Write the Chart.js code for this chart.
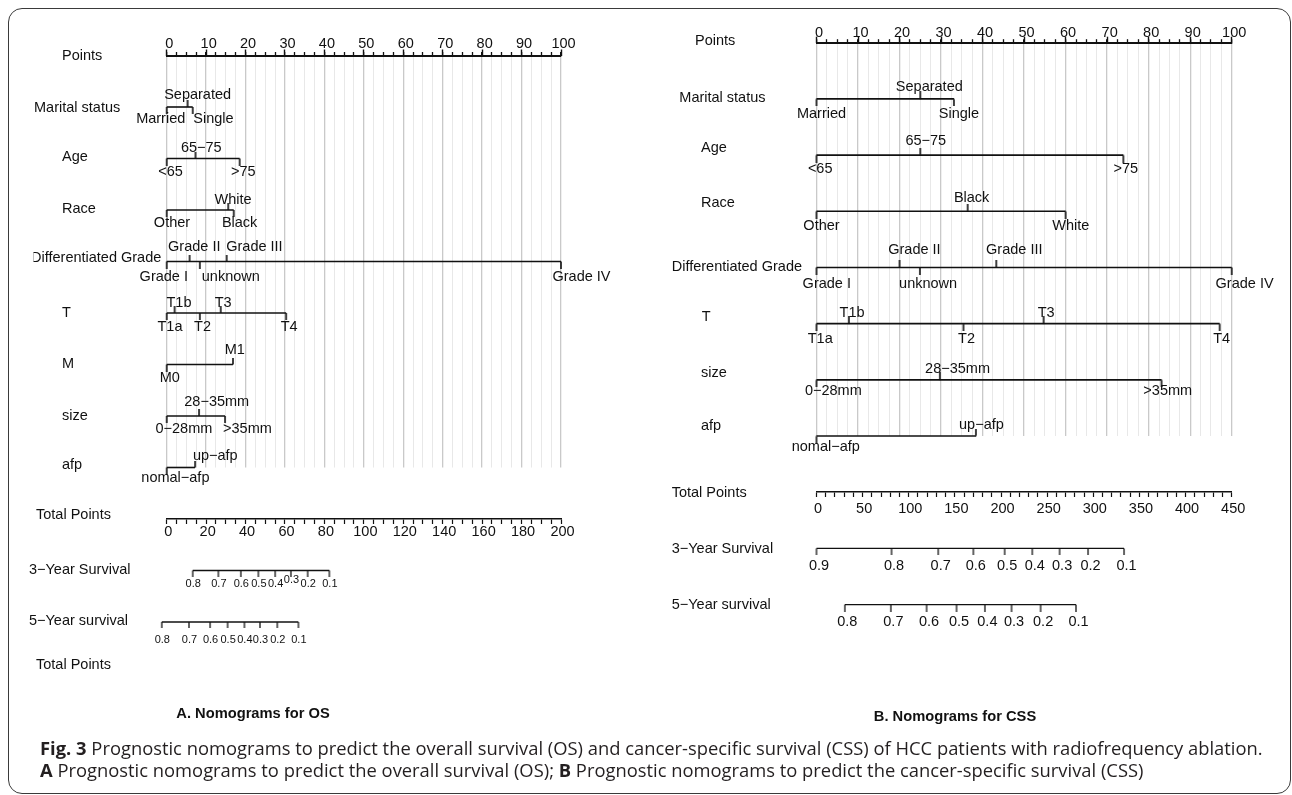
<!DOCTYPE html>
<html>
<head>
<meta charset="utf-8">
<title>Prognostic nomograms – OS and CSS</title>
<script src="https://cdn.jsdelivr.net/npm/chart.js@4.4.1/dist/chart.umd.min.js"></script>
<style>
  html, body { margin: 0; padding: 0; background: #fff; }
  #page { position: relative; width: 1292px; height: 795px; overflow: hidden; background: #fff; }
  #frame { position: absolute; left: 8px; top: 8px; width: 1283px; height: 786px;
           border: 1.5px solid #3a3a3a; border-radius: 14px; box-sizing: border-box; }
  canvas { position: absolute; left: 0; top: 0; }
  .panel-title { position: absolute; font: bold 14.7px "Liberation Sans", Arial, sans-serif; color: #111;
                 white-space: nowrap; transform: translate(-50%, -50%); }
  .caption { position: absolute; left: 40px; font-family: "Open Sans", "Noto Sans", sans-serif; font-size: 18.3px;
             color: #231f20; white-space: nowrap; line-height: 22px; }
  .caption b { font-weight: 700; }
</style>
</head>
<body>
<div id="page">
  <div id="frame"></div>
  <canvas id="osChart" width="1292" height="795"></canvas>
  <canvas id="cssChart" width="1292" height="795"></canvas>
  <div class="panel-title" style="left:253px; top:713px;">A. Nomograms for OS</div>
  <div class="panel-title" style="left:955px; top:716px;">B. Nomograms for CSS</div>
  <div class="caption" id="cap1" style="top:737px;"><b>Fig. 3</b> Prognostic nomograms to predict the overall survival (OS) and cancer-specific survival (CSS) of HCC patients with radiofrequency ablation.</div>
  <div class="caption" id="cap2" style="top:759px;"><b>A</b> Prognostic nomograms to predict the overall survival (OS); <b>B</b> Prognostic nomograms to predict the cancer-specific survival (CSS)</div>
</div>

<script>
// ---------------- A. Overall survival (OS) ----------------
const osRowNames = ['Points', 'Marital status', 'Age', 'Race', 'Differentiated Grade', 'T', 'M', 'size', 'afp',
                    'Total Points', '3\u2212Year Survival', '5\u2212Year survival', 'Total Points'];
const osMaritalLevels = ['Married', 'Separated', 'Single'];
const osMaritalPoints = [0, 5.3, 6.6];
const osAgeLevels = ['<65', '65\u221275', '>75'];
const osAgePoints = [0, 7.3, 18.5];
const osRaceLevels = ['Other', 'White', 'Black'];
const osRacePoints = [0, 15.6, 17.0];
const osGradeLevels = ['Grade I', 'Grade II', 'unknown', 'Grade III', 'Grade IV'];
const osGradePoints = [0, 5.8, 8.4, 15.2, 100];
const osTLevels = ['T1a', 'T1b', 'T2', 'T3', 'T4'];
const osTPoints = [0, 2.0, 8.4, 13.7, 30.3];
const osMLevels = ['M0', 'M1'];
const osMPoints = [0, 16.8];
const osSizeLevels = ['0\u221228mm', '28\u221235mm', '>35mm'];
const osSizePoints = [0, 8.2, 14.8];
const osAfpLevels = ['nomal\u2212afp', 'up\u2212afp'];
const osAfpPoints = [0, 7.2];
const osTotalMax = 200;
const osSurvivalTicks = [0.8, 0.7, 0.6, 0.5, 0.4, 0.3, 0.2, 0.1];
const os3yTotals = [13.2, 26.2, 37.6, 46.5, 55.0, 63.0, 71.5, 82.5];
const os5yTotals = [-2.5, 11.3, 22.0, 30.9, 39.4, 47.3, 56.1, 66.8];

// ---------------- B. Cancer-specific survival (CSS) ----------------
const cssRowNames = ['Points', 'Marital status', 'Age', 'Race', 'Differentiated Grade', 'T', 'size', 'afp',
                     'Total Points', '3\u2212Year Survival', '5\u2212Year survival'];
const cssMaritalLevels = ['Married', 'Separated', 'Single'];
const cssMaritalPoints = [0, 25.0, 33.1];
const cssAgeLevels = ['<65', '65\u221275', '>75'];
const cssAgePoints = [0, 25.0, 73.9];
const cssRaceLevels = ['Other', 'Black', 'White'];
const cssRacePoints = [0, 36.4, 60.0];
const cssGradeLevels = ['Grade I', 'Grade II', 'unknown', 'Grade III', 'Grade IV'];
const cssGradePoints = [0, 20.0, 24.9, 43.3, 100];
const cssTLevels = ['T1a', 'T1b', 'T2', 'T3', 'T4'];
const cssTPoints = [0, 7.8, 35.4, 54.7, 97.1];
const cssSizeLevels = ['0\u221228mm', '28\u221235mm', '>35mm'];
const cssSizePoints = [0, 29.7, 83.1];
const cssAfpLevels = ['nomal\u2212afp', 'up\u2212afp'];
const cssAfpPoints = [0, 38.4];
const cssTotalMax = 450;
const css3yTicks = [0.9, 0.8, 0.7, 0.6, 0.5, 0.4, 0.3, 0.2, 0.1];
const css3yTotals = [0, 81.3, 131.9, 170.0, 203.9, 233.9, 263.5, 294.3, 333.3];
const css5yTicks = [0.8, 0.7, 0.6, 0.5, 0.4, 0.3, 0.2, 0.1];
const css5yTotals = [30.7, 80.6, 119.3, 151.8, 182.5, 211.4, 242.9, 281.2];

// ---------------- styling ----------------
const INK = '#111111';
const GRID_MAJOR = '#c9c9c9';
const GRID_MINOR = '#e8e8e8';
const FAMILY = '"Liberation Sans", Arial, Helvetica, sans-serif';
const PAGE_W = 1292, PAGE_H = 795;
const POINTS_LABEL_BAND = 28;   // height reserved above the Points axis for its numbers

Chart.defaults.font.family = FAMILY;
Chart.defaults.font.size = 14.5;
Chart.defaults.color = INK;

// Panel layout: label placement per level (which labels sit above the line, horizontal nudges),
// row-name positions and pixel geometry of the plotting area.
const panelA = {
  canvas: 'osChart',
  left: 166.7, right: 561, top: 55.5, rowGap: 51.5,
  rowNames: osRowNames,
  nameX:    [62, 34, 62, 62, 31, 62, 62, 62, 62, 36, 29, 29, 36],
  nameBase: [4.5, 4.7, 2.2, 3.3, 0, 3.7, 3.8, 4, 1.5, 0, 3.8, 3, -4.2],
  nameClip: { 4: 33.5 },
  factors: [
    { levels: osMaritalLevels, points: osMaritalPoints, up: [1],    dx: [-6, 10, 20.7],              above: 8.3,  below: 15.7 },
    { levels: osAgeLevels,     points: osAgePoints,     up: [1],    dx: [3.8, 5.8, 3.7],             above: 6.8,  below: 17.2 },
    { levels: osRaceLevels,    points: osRacePoints,    up: [1],    dx: [5.3, 4.8, 5.9],             above: 6,    below: 17.3 },
    { levels: osGradeLevels,   points: osGradePoints,   up: [1, 3], dx: [-2.9, 4.7, 31, 27.8, 20.5], above: 10.8, below: 19.2 },
    { levels: osTLevels,       points: osTPoints,       up: [1, 3], dx: [3.3, 4.4, 2.7, 2.5, 3],     above: 6.3,  below: 17.7 },
    { levels: osMLevels,       points: osMPoints,       up: [1],    dx: [3, 1.9],                    above: 10.5, below: 17.2 },
    { levels: osSizeLevels,    points: osSizePoints,    up: [1],    dx: [17.2, 17.7, 22.4],          above: 10,   below: 17.3 },
    { levels: osAfpLevels,     points: osAfpPoints,     up: [1],    dx: [8.7, 20.2],                 above: 7.5,  below: 14.8 }
  ],
  factorTick: 7,
  pointsPad: -3.2,
  totalMax: osTotalMax, totalStep: 5, totalLabelEvery: 20, totalPad: -0.7,
  survival: [
    { ticks: osSurvivalTicks, totals: os3yTotals, below: 16.8, lift: [0, 0, 0, 0, 0, -4.6, 0, 0] },
    { ticks: osSurvivalTicks, totals: os5yTotals, below: 21.3 }
  ],
  survTick: 6, survFont: 11, survDx: 0.5
};

const panelB = {
  canvas: 'cssChart',
  left: 816.5, right: 1231.7, top: 42.7, rowGap: 56.19,
  rowNames: cssRowNames,
  nameX:    [695, 679.3, 701, 701, 671.7, 701.7, 701, 701, 671.7, 671.7, 671.7],
  nameBase: [2.3, 2.8, -3.4, -4.6, 3.2, -2.9, -2.5, -6, 5, 5, 4.7],
  nameClip: {},
  factors: [
    { levels: cssMaritalLevels, points: cssMaritalPoints, up: [1],    dx: [5, 9, 5],                   above: 8.2,  below: 19.4 },
    { levels: cssAgeLevels,     points: cssAgePoints,     up: [1],    dx: [3.7, 5.5, 2.5],             above: 10.1, below: 17.6 },
    { levels: cssRaceLevels,    points: cssRacePoints,    up: [1],    dx: [5, 4, 5.2],                 above: 9.6,  below: 18.7 },
    { levels: cssGradeLevels,   points: cssGradePoints,   up: [1, 3], dx: [10.3, 14.9, 8.2, 18, 12.9], above: 13,   below: 20.3 },
    { levels: cssTLevels,       points: cssTPoints,       up: [1, 3], dx: [3.7, 3.2, 3, 2.5, 2],       above: 6.9,  below: 19.3 },
    { levels: cssSizeLevels,    points: cssSizePoints,    up: [1],    dx: [16.8, 17.7, 6.2],           above: 6.5,  below: 15.5 },
    { levels: cssAfpLevels,     points: cssAfpPoints,     up: [1],    dx: [9.3, 5.5],                  above: 6.7,  below: 14.7 }
  ],
  factorTick: 7.5,
  pointsPad: -4.5,
  totalMax: cssTotalMax, totalStep: 10, totalLabelEvery: 50, totalPad: 3.1,
  survival: [
    { ticks: css3yTicks, totals: css3yTotals, below: 21.3 },
    { ticks: css5yTicks, totals: css5yTotals, below: 21 }
  ],
  survTick: 7, survFont: 14.5, survDx: 2.5
};

// Small tick glyph used as a point style: a vertical stroke above or below the point.
function tickMark(len, up, width) {
  const c = document.createElement('canvas');
  c.width = 6;
  c.height = Math.round(len * 2);
  const g = c.getContext('2d');
  g.fillStyle = INK;
  g.fillRect(3 - width / 2, up ? 0 : c.height / 2, width, c.height / 2);
  return c;
}

function isMajor(ctx) {
  if (!ctx.tick) return false;
  const q = ctx.tick.value / 10;
  return Math.abs(q - Math.round(q)) < 1e-6;
}

// Vertical reference lines stop at the last predictor row.
function gridStopPlugin(lastGridRow) {
  return {
    id: 'gridStop',
    afterLayout(chart) {
      const s = chart.scales.pts;
      if (!s || s.__stopped) return;
      const base = s.drawGrid;
      s.drawGrid = function (area) {
        const yEnd = chart.scales.y.getPixelForValue(lastGridRow);
        const ctx = this.ctx;
        ctx.save();
        ctx.beginPath();
        ctx.rect(0, 0, chart.width, yEnd);
        ctx.clip();
        base.call(this, area);
        ctx.restore();
      };
      s.__stopped = true;
    }
  };
}

// Row names on the left of each scale.
function rowNamePlugin(P) {
  return {
    id: 'rowNames',
    afterDraw(chart) {
      const ctx = chart.ctx;
      const y = chart.scales.y;
      ctx.save();
      ctx.font = '14.5px ' + FAMILY;
      ctx.fillStyle = INK;
      ctx.textAlign = 'left';
      ctx.textBaseline = 'alphabetic';
      P.rowNames.forEach((name, r) => {
        ctx.save();
        if (P.nameClip[r] !== undefined) {
          ctx.beginPath();
          ctx.rect(P.nameClip[r], 0, chart.width, chart.height);
          ctx.clip();
        }
        ctx.fillText(name, P.nameX[r], y.getPixelForValue(r) + P.nameBase[r]);
        ctx.restore();
      });
      ctx.restore();
    }
  };
}

// Level names next to each tick, above or below the line.
const levelTagPlugin = {
  id: 'levelTags',
  afterDatasetsDraw(chart) {
    const ctx = chart.ctx;
    chart.data.datasets.forEach((ds, i) => {
      if (!ds.tagText) return;
      const meta = chart.getDatasetMeta(i);
      ctx.save();
      ctx.font = ds.tagFont;
      ctx.fillStyle = INK;
      ctx.textAlign = 'center';
      ctx.textBaseline = 'alphabetic';
      meta.data.forEach((el, j) => {
        const lift = ds.tagLift ? ds.tagLift[j] : 0;
        const ty = ds.tagUp[j] ? el.y - ds.tagAbove : el.y + ds.tagBelow + lift;
        ctx.fillText(ds.tagText[j], el.x + ds.tagDx[j], ty);
      });
      ctx.restore();
    });
  }
};

function drawPanel(P) {
  const nF = P.factors.length;
  const totalRow = nF + 1;
  const lastRow = nF + 3;
  const tickUp = tickMark(P.factorTick, true, 1.6);
  const tickDown = tickMark(P.factorTick, false, 1.6);
  const survTick = tickMark(P.survTick, false, 1.3);
  const datasets = [];

  P.factors.forEach((f, i) => {
    const row = i + 1;
    const isUp = f.points.map((_, j) => f.up.includes(j));
    datasets.push({
      data: f.points.map(p => ({ x: p, y: row })),
      xAxisID: 'pts', yAxisID: 'y',
      showLine: true, tension: 0, clip: false,
      borderColor: INK, borderWidth: 1.6,
      pointStyle: isUp.map(u => (u ? tickUp : tickDown)),
      pointRadius: 9, pointHoverRadius: 9, pointBorderWidth: 0,
      tagText: f.levels, tagUp: isUp, tagDx: f.dx,
      tagAbove: f.above, tagBelow: f.below, tagFont: '14.5px ' + FAMILY
    });
  });

  P.survival.forEach((s, k) => {
    const row = totalRow + 1 + k;
    datasets.push({
      data: s.totals.map(t => ({ x: t, y: row })),
      xAxisID: 'tp', yAxisID: 'y',
      showLine: true, tension: 0, clip: false,
      borderColor: INK, borderWidth: 1.3,
      pointStyle: survTick,
      pointRadius: 9, pointHoverRadius: 9, pointBorderWidth: 0,
      tagText: s.ticks.map(v => v.toFixed(1)),
      tagUp: s.ticks.map(() => false),
      tagDx: s.ticks.map(() => P.survDx),
      tagBelow: s.below, tagLift: s.lift,
      tagFont: P.survFont + 'px ' + FAMILY
    });
  });

  new Chart(document.getElementById(P.canvas), {
    type: 'scatter',
    data: { datasets },
    options: {
      responsive: false,
      animation: false,
      devicePixelRatio: 1,
      events: [],
      layout: {
        padding: {
          left: P.left,
          right: PAGE_W - P.right,
          top: P.top - POINTS_LABEL_BAND,
          bottom: PAGE_H - (P.top + lastRow * P.rowGap)
        }
      },
      plugins: { legend: { display: false }, tooltip: { enabled: false } },
      scales: {
        y: { type: 'linear', display: false, min: 0, max: lastRow, reverse: true },
        // Points axis: line, minor ticks every 2.5 and the vertical reference lines
        pts: {
          axis: 'x', type: 'linear', position: 'top', weight: 0, min: 0, max: 100,
          afterFit: s => { s.height = 0; },
          ticks: { display: false, stepSize: 2.5, autoSkip: false },
          grid: {
            color: c => (isMajor(c) ? GRID_MAJOR : GRID_MINOR),
            lineWidth: c => (isMajor(c) ? 1.3 : 1),
            tickLength: 3.5, tickColor: INK, tickWidth: 1.3
          },
          border: { display: true, color: INK, width: 2 }
        },
        // Points axis: longer ticks and numbers every 10
        ptsMajor: {
          axis: 'x', type: 'linear', position: 'top', weight: 1, min: 0, max: 100,
          afterFit: s => { s.height = POINTS_LABEL_BAND; },
          ticks: { stepSize: 10, autoSkip: false, maxRotation: 0, padding: P.pointsPad,
                   labelOffset: 2.5, color: INK, font: { size: 14.5 } },
          grid: { drawOnChartArea: false, tickLength: 6, tickColor: INK, tickWidth: 1.4 },
          border: { display: false }
        },
        // Total Points axis
        tp: {
          axis: 'x', type: 'linear', position: { y: totalRow }, min: 0, max: P.totalMax,
          ticks: {
            stepSize: P.totalStep, autoSkip: false, maxRotation: 0, padding: P.totalPad,
            labelOffset: 1.5, color: INK, font: { size: 14.5 },
            callback: v => (v % P.totalLabelEvery === 0 ? String(v) : '')
          },
          grid: { drawOnChartArea: false, tickLength: 4.5, tickColor: INK, tickWidth: 1.2 },
          border: { display: true, color: INK, width: 1.5 }
        }
      }
    },
    plugins: [gridStopPlugin(nF), rowNamePlugin(P), levelTagPlugin]
  });
}

drawPanel(panelA);
drawPanel(panelB);

// Caption lines are set so that the first line spans the full text width of the figure.
(function fitCaption() {
  const c1 = document.getElementById('cap1');
  const c2 = document.getElementById('cap2');
  const w = c1.getBoundingClientRect().width;
  if (w > 0) {
    const size = 18.3 * 1222 / w;
    c1.style.fontSize = size + 'px';
    c2.style.fontSize = size + 'px';
  }
})();
</script>
</body>
</html>
